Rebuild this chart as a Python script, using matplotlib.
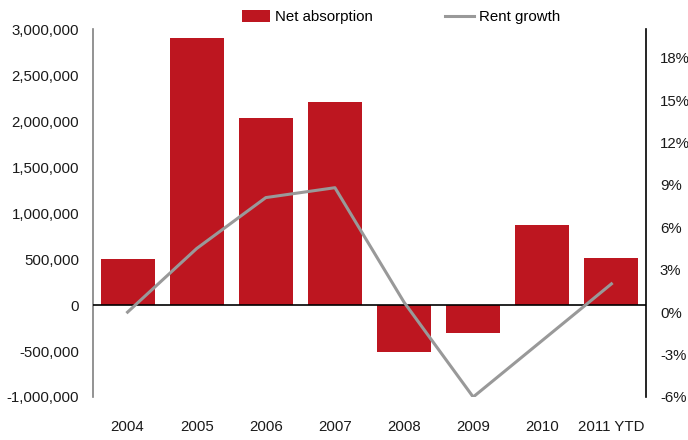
import matplotlib
matplotlib.use("Agg")
import matplotlib.pyplot as plt
from matplotlib.patches import Patch
from matplotlib.lines import Line2D
from matplotlib.ticker import FuncFormatter

categories = ["2004", "2005", "2006", "2007", "2008", "2009", "2010", "2011 YTD"]
net_absorption = [500000, 2910000, 2040000, 2210000, -510000, -300000, 875000, 510000]
rent_growth = [0.0, 4.5, 8.1, 8.8, 0.7, -6.0, -2.0, 2.0]
left_ticks = [-1000000, -500000, 0, 500000, 1000000, 1500000, 2000000, 2500000, 3000000]
right_ticks = [-6, -3, 0, 3, 6, 9, 12, 15, 18]

plt.rcParams['font.family'] = ['Liberation Sans', 'DejaVu Sans']
plt.rcParams['font.size'] = 10.8

RED = "#BD1620"
GRAY = "#999999"

fig = plt.figure(figsize=(6.88, 4.4), dpi=100)
ax = fig.add_axes([93/688, 1-397/440, (646-93)/688, (397-29.3)/440])
ax2 = ax.twinx()

x = list(range(len(categories)))
ax.bar(x, net_absorption, width=0.78, color=RED, zorder=2)
ax.axhline(0, color="black", lw=1.2, zorder=3)
ax.set_ylim(-1000000, 3000000)
ax.set_xlim(-0.5, len(categories) - 0.5)
ax.set_yticks(left_ticks)
ax.yaxis.set_major_formatter(FuncFormatter(lambda v, p: f"{int(v):,}"))
ax.set_xticks(x)
ax.set_xticklabels(categories)
ax.tick_params(axis='both', length=0, colors="#1a1a1a")
ax.tick_params(axis='y', pad=10)
ax.tick_params(axis='x', pad=16.5)
for s in ["top", "right", "bottom"]:
    ax.spines[s].set_visible(False)
ax.spines["left"].set_color("#808080")
ax.spines["left"].set_linewidth(1.2)

ax2.plot(x, rent_growth, color=GRAY, lw=2.2, zorder=4)
ax2.set_ylim(-6, 20)
ax2.set_yticks(right_ticks)
ax2.yaxis.set_major_formatter(FuncFormatter(lambda v, p: f"{int(v)}%"))
ax2.tick_params(axis='y', length=0, pad=10, colors="#1a1a1a")
for s in ["top", "left", "bottom"]:
    ax2.spines[s].set_visible(False)
ax2.spines["right"].set_color("black")
ax2.spines["right"].set_linewidth(1.2)

handles = [Patch(facecolor=RED, edgecolor="none"),
           Line2D([0], [0], color=GRAY, lw=2.2)]
fig.legend(handles, ["Net absorption", "Rent growth"], loc="center",
           bbox_to_anchor=(401/688, 1-17/440), ncol=2, frameon=False,
           handlelength=1.9, handleheight=0.8, handletextpad=0.35,
           columnspacing=4.8, borderpad=0, borderaxespad=0)

fig.savefig("out.png", dpi=100)
